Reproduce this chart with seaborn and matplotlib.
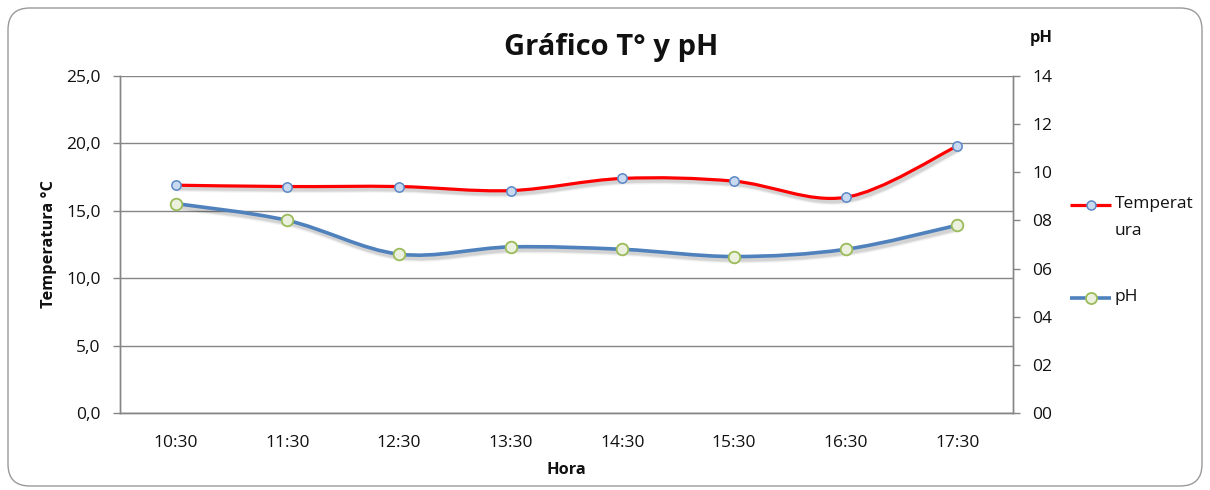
import numpy as np
import pandas as pd
import matplotlib
matplotlib.use("Agg")
import matplotlib.pyplot as plt
import matplotlib.transforms as mtransforms
from matplotlib.path import Path
from matplotlib.patches import PathPatch, FancyBboxPatch
from matplotlib.lines import Line2D
import seaborn as sns

# Readings per hour
horas = ["10:30", "11:30", "12:30", "13:30", "14:30", "15:30", "16:30", "17:30"]
temperatura = [16.9, 16.8, 16.8, 16.5, 17.4, 17.2, 16.0, 19.8]
ph = [8.7, 8.0, 6.6, 6.9, 6.8, 6.5, 6.8, 7.8]

temp_ticks = [0, 5, 10, 15, 20, 25]
ph_ticks = [0, 2, 4, 6, 8, 10, 12, 14]

df = pd.DataFrame({"Hora": horas, "Temperatura": temperatura, "pH": ph})

sns.set_theme(style="white")
plt.rcParams["font.family"] = ["Open Sans", "DejaVu Sans"]

W, H = 1210, 490
fig = plt.figure(figsize=(W / 100, H / 100), dpi=100)

# rounded chart frame, kept behind the axes
frame = FancyBboxPatch((8 / W, 4 / H), 1194 / W, 478 / H,
                       boxstyle="round,pad=0,rounding_size=0.018",
                       transform=fig.transFigure, facecolor="white",
                       edgecolor="#9a9a9a", linewidth=1.0, zorder=-10,
                       mutation_aspect=W / H)
fig.patches.append(frame)

ax = fig.add_axes([120 / W, 77 / H, 893 / W, 337 / H])
ax.patch.set_alpha(0)
ax2 = ax.twinx()

GRAY = "#868686"
TXT = "#111111"


def smooth_path(xs, ys):
    """Cardinal-spline (Bezier) path through the given points."""
    pts = np.column_stack([xs, ys]).astype(float)
    n = len(pts)
    verts = [pts[0]]
    codes = [Path.MOVETO]
    for i in range(n - 1):
        p0 = pts[i - 1] if i > 0 else pts[i]
        p3 = pts[i + 2] if i + 2 < n else pts[i + 1]
        c1 = pts[i] + (pts[i + 1] - p0) / 6.0
        c2 = pts[i + 1] - (p3 - pts[i]) / 6.0
        verts += [c1, c2, pts[i + 1]]
        codes += [Path.CURVE4] * 3
    return Path(verts, codes)


def draw_curve(axis, values, color, lw):
    path = smooth_path(np.arange(len(values)), values)
    # soft drop shadow: a few widening, faint strokes offset down-right
    for w, a in [(lw + 3.0, 0.04), (lw + 1.6, 0.06), (lw + 0.4, 0.08)]:
        shadow_tr = mtransforms.offset_copy(axis.transData, fig=fig, x=2, y=-3,
                                            units="dots")
        axis.add_patch(PathPatch(path, facecolor="none", edgecolor="#000000",
                                 alpha=a, lw=w, transform=shadow_tr,
                                 zorder=2, capstyle="round"))
    axis.add_patch(PathPatch(path, facecolor="none", edgecolor=color,
                             lw=lw, zorder=3, capstyle="round"))


# markers through seaborn on the categorical axis
sns.scatterplot(data=df, x="Hora", y="Temperatura", ax=ax, s=45,
                color="#c9daf0", edgecolor="#5b87c5", linewidth=1.1, zorder=5)
draw_curve(ax, temperatura, "#ff0000", 2.3)

sns.scatterplot(data=df, x="Hora", y="pH", ax=ax2, s=70,
                color="#ebf1de", edgecolor="#9bbb59", linewidth=1.3, zorder=5)
draw_curve(ax2, ph, "#4f81bd", 2.6)

ax.set_xlim(-0.5, len(horas) - 0.5)
ax.set_ylim(0, 25)
ax2.set_ylim(0, 14)

ax.set_yticks(temp_ticks)
ax.set_yticklabels([f"{v:.1f}".replace(".", ",") for v in temp_ticks])
ax2.set_yticks(ph_ticks)
ax2.set_yticklabels([f"{v:02d}" for v in ph_ticks])
ax.set_xticks(range(len(horas)))
ax.set_xticklabels(horas)

ax.yaxis.grid(True, color=GRAY, linewidth=1.0)
ax.set_axisbelow(True)

for a in (ax, ax2):
    for side in ("left", "right", "bottom"):
        a.spines[side].set_color(GRAY)
        a.spines[side].set_linewidth(1.0)
    a.spines["top"].set_visible(False)

ax.tick_params(axis="y", left=True, length=5, width=1, color=GRAY, pad=9,
               labelsize=12.5, labelcolor=TXT)
ax2.tick_params(axis="y", right=True, length=5, width=1, color=GRAY, pad=9,
                labelsize=12.5, labelcolor=TXT)
ax.tick_params(axis="x", bottom=False, length=0, pad=16, labelsize=12.5,
               labelcolor=TXT)

ax.set_ylabel("Temperatura °C", fontsize=11.8, fontweight="bold", color=TXT)
ax.yaxis.set_label_coords(-0.071, 0.5)
ax.set_xlabel("Hora", fontsize=11.8, fontweight="bold", color=TXT)
ax.xaxis.set_label_coords(0.5, -0.146)
ax2.set_ylabel("")

fig.text(1041 / W, 1 - 38 / H, "pH", fontsize=11.8, fontweight="bold",
         ha="center", va="center", color=TXT)
fig.text(611 / W, 1 - 47 / H, "Gráfico T° y pH", fontsize=21, fontweight="bold",
         ha="center", va="center", color=TXT)

# legend keys at the right of the plot
legend_items = [
    ("Temperat\nura", 205, dict(color="#ff0000", lw=2.3, markersize=6.5,
                                markerfacecolor="#c9daf0", markeredgecolor="#5b87c5",
                                markeredgewidth=1.1)),
    ("pH", 298, dict(color="#4f81bd", lw=2.6, markersize=8,
                     markerfacecolor="#ebf1de", markeredgecolor="#9bbb59",
                     markeredgewidth=1.3)),
]
for label, ypix, style in legend_items:
    yf = 1 - ypix / H
    fig.add_artist(Line2D([1070 / W, 1111 / W], [yf, yf], transform=fig.transFigure,
                          marker="None", solid_capstyle="butt",
                          color=style["color"], lw=style["lw"]))
    fig.add_artist(Line2D([1090.5 / W], [yf], transform=fig.transFigure,
                          marker="o", linestyle="None",
                          markersize=style["markersize"],
                          markerfacecolor=style["markerfacecolor"],
                          markeredgecolor=style["markeredgecolor"],
                          markeredgewidth=style["markeredgewidth"]))
    fig.text(1115 / W, yf + 9 / H, label, fontsize=12.5, ha="left", va="top",
             linespacing=1.95, color=TXT)

fig.savefig("out.png", dpi=100)
